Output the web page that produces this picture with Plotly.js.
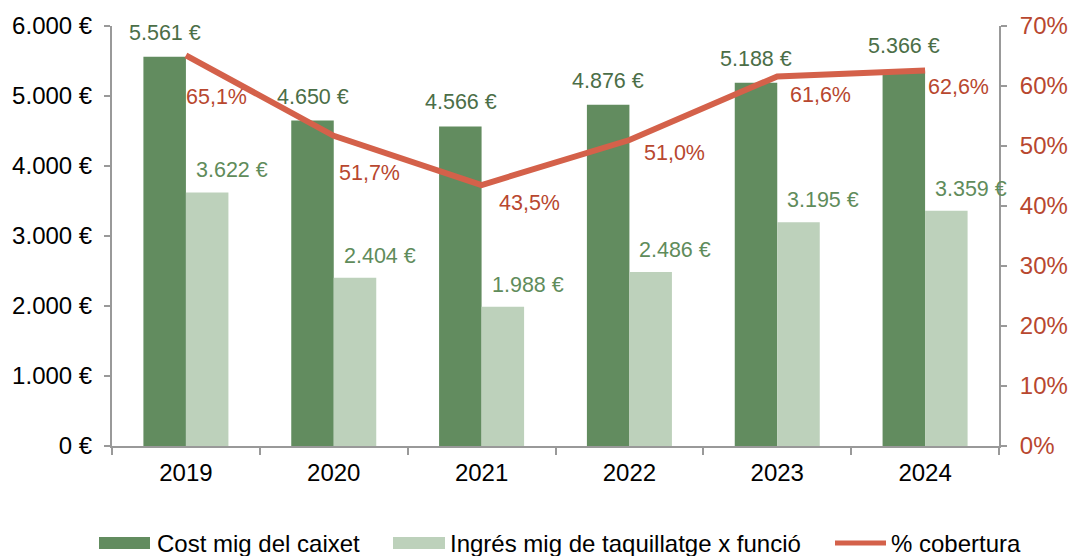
<!DOCTYPE html>
<html>
<head>
<meta charset="utf-8">
<script src="https://cdn.plot.ly/plotly-3.0.1.min.js"></script>
<style>
  html, body { margin: 0; padding: 0; background: #fff; }
  #chart { width: 1070px; height: 556px; }
</style>
</head>
<body>
<div id="chart"></div>
<script>
// ---- Data ----
const years = ['2019', '2020', '2021', '2022', '2023', '2024'];
const costMig = [5561, 4650, 4566, 4876, 5188, 5366];
const ingresMig = [3622, 2404, 1988, 2486, 3195, 3359];
const cobertura = [65.1, 51.7, 43.5, 51.0, 61.6, 62.6];
const leftTickVals = [0, 1000, 2000, 3000, 4000, 5000, 6000];
const rightTickVals = [0, 10, 20, 30, 40, 50, 60, 70];
const seriesNames = ['Cost mig del caixet', 'Ingrés mig de taquillatge x funció', '% cobertura'];

// ---- Styles ----
const FONT = 'Liberation Sans, Arial, sans-serif';
const cDark = '#628c5f';
const cLight = '#bdd1bb';
const cLine = '#d4614a';
const cDarkText = '#4b6e47';
const cLightText = '#5f8c5b';
const cPctText = '#b8472f';
const cAxis = '#999999';
// label offsets (px) for the percentage labels, relative to each point
const pctDx = [31, 36, 48, 45, 43, 33];
const pctDy = [42, 37, 18, 13, 19, 17];

function fmtEuro(v) {
  return String(v).replace(/\B(?=(\d{3})+(?!\d))/g, '.') + ' €';
}
function fmtPct(v) {
  return v.toFixed(1).replace('.', ',') + '%';
}

const traces = [
  {
    type: 'bar', name: seriesNames[0], x: years, y: costMig,
    marker: { color: cDark }, hoverinfo: 'skip', showlegend: false
  },
  {
    type: 'bar', name: seriesNames[1], x: years, y: ingresMig,
    marker: { color: cLight }, hoverinfo: 'skip', showlegend: false
  },
  {
    type: 'scatter', mode: 'lines', name: seriesNames[2], x: years, y: cobertura,
    yaxis: 'y2', line: { color: cLine, width: 6 }, hoverinfo: 'skip', showlegend: false
  }
];

const annotations = [];
years.forEach((yr, i) => {
  annotations.push({
    x: i, y: costMig[i], xref: 'x', yref: 'y', text: fmtEuro(costMig[i]),
    showarrow: false, xanchor: 'center', yanchor: 'middle', xshift: -21, yshift: 24,
    font: { family: FONT, size: 21.5, color: cDarkText }
  });
  annotations.push({
    x: i, y: ingresMig[i], xref: 'x', yref: 'y', text: fmtEuro(ingresMig[i]),
    showarrow: false, xanchor: 'center', yanchor: 'middle', xshift: 46, yshift: 22,
    font: { family: FONT, size: 21.5, color: cLightText }
  });
  annotations.push({
    x: i, y: cobertura[i], xref: 'x', yref: 'y2', text: fmtPct(cobertura[i]),
    showarrow: false, xanchor: 'center', yanchor: 'middle', xshift: pctDx[i], yshift: -pctDy[i],
    font: { family: FONT, size: 21.5, color: cPctText }
  });
});

// custom legend
const PW = 887, PH = 420, L = 112, B = 446;
const px = v => (v - L) / PW;
const py = v => (B - v) / PH;
const legendY = py(543);
const shapes = [
  { type: 'rect', xref: 'paper', yref: 'paper', x0: px(99), x1: px(150), y0: py(549), y1: py(537),
    fillcolor: cDark, line: { width: 0 } },
  { type: 'rect', xref: 'paper', yref: 'paper', x0: px(393), x1: px(445), y0: py(549), y1: py(537),
    fillcolor: cLight, line: { width: 0 } },
  { type: 'line', xref: 'paper', yref: 'paper', x0: px(835), x1: px(886), y0: legendY, y1: legendY,
    line: { color: cLine, width: 5 } }
];
[[156, seriesNames[0]], [449, seriesNames[1]], [890, seriesNames[2]]].forEach(([xp, t]) => {
  annotations.push({
    x: px(xp), y: legendY, xref: 'paper', yref: 'paper', text: t, showarrow: false,
    xanchor: 'left', yanchor: 'middle', borderpad: 0,
    font: { family: FONT, size: 24, color: '#000000' }
  });
});

const layout = {
  width: 1070, height: 556,
  margin: { l: 112, r: 71, t: 26, b: 110, pad: 0 },
  paper_bgcolor: '#ffffff', plot_bgcolor: '#ffffff',
  font: { family: FONT, size: 24, color: '#000000' },
  barmode: 'group', bargap: 0.425, bargroupgap: 0,
  showlegend: false,
  xaxis: {
    type: 'category', range: [-0.5, years.length - 0.5], autorange: false,
    showgrid: false, zeroline: false,
    showline: true, linecolor: cAxis, linewidth: 2,
    ticks: 'outside', tickson: 'boundaries', ticklen: 7, tickwidth: 2, tickcolor: cAxis,
    tickfont: { family: FONT, size: 24, color: '#000000' },
    tickangle: 0, ticklabelstandoff: 4, fixedrange: true
  },
  yaxis: {
    range: [0, 6000], autorange: false, showgrid: false, zeroline: false,
    showline: true, linecolor: cAxis, linewidth: 2,
    ticks: 'outside', ticklen: 6, tickwidth: 2, tickcolor: cAxis,
    tickvals: leftTickVals, ticktext: leftTickVals.map(fmtEuro),
    tickfont: { family: FONT, size: 24, color: '#000000' },
    ticklabelstandoff: 7, fixedrange: true
  },
  yaxis2: {
    range: [0, 70], autorange: false, overlaying: 'y', side: 'right', showgrid: false, zeroline: false,
    showline: true, linecolor: cAxis, linewidth: 2,
    ticks: 'outside', ticklen: 6, tickwidth: 2, tickcolor: cAxis,
    tickvals: rightTickVals, ticktext: rightTickVals.map(v => v + '%'),
    tickfont: { family: FONT, size: 24, color: cPctText },
    ticklabelstandoff: 8, fixedrange: true
  },
  annotations: annotations,
  shapes: shapes
};

Plotly.newPlot('chart', traces, layout, { displayModeBar: false, staticPlot: true });
</script>
</body>
</html>
